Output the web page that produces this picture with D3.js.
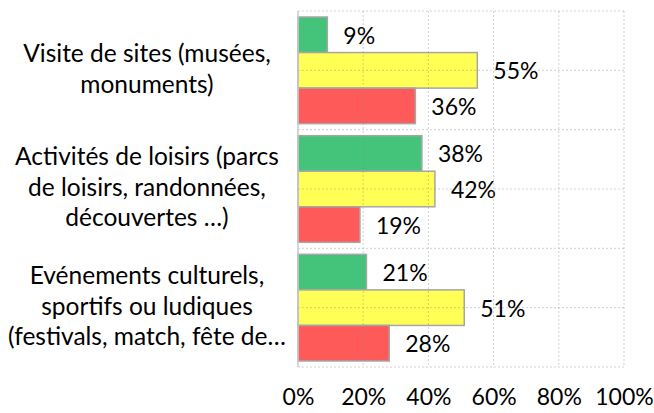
<!DOCTYPE html>
<html>
<head>
<meta charset="utf-8">
<script src="https://cdn.jsdelivr.net/npm/d3@7"></script>
<style>
  body { margin: 0; background: #fff; }
  svg text { font-family: Lato, "Open Sans", sans-serif; fill: #000; }
</style>
</head>
<body>
<div id="chart"></div>
<script>
// data
var categories = [
  ["Visite de sites (musées,", "monuments)"],
  ["Activités de loisirs (parcs", "de loisirs, randonnées,", "découvertes …)"],
  ["Evénements culturels,", "sportifs ou ludiques", "(festivals, match, fête de…"]
];
var seriesNames = ["vert", "jaune", "rouge"];
var greenValues = [9, 38, 21];
var yellowValues = [55, 42, 51];
var redValues = [36, 19, 28];
var xTicks = [0, 20, 40, 60, 80, 100];
var colors = ["#43c47a", "#ffff55", "#ff5a5a"];

var svgWidth = 654, svgHeight = 413;
var margin = {top: 11, left: 298, right: 30, bottom: 46};
var catFont = 24.5, valFont = 23;

var svg = d3.select("#chart").append("svg")
  .attr("width", svgWidth)
  .attr("height", svgHeight);

var values = [greenValues, yellowValues, redValues];
var rows = categories.map(function(c, i) {
  return {label: c, vals: values.map(function(s) { return s[i]; })};
});

var x = d3.scaleLinear().domain([0, 100]).range([margin.left, margin.left + 326]);
var y0 = d3.scaleBand().domain(d3.range(categories.length))
  .range([margin.top, svgHeight - margin.bottom]);
var y1 = d3.scaleBand().domain(d3.range(seriesNames.length))
  .range([6, y0.bandwidth() - 6]);

// bars
var groups = svg.selectAll("g.cat")
  .data(rows)
  .enter().append("g")
  .attr("class", "cat")
  .attr("transform", function(d, i) { return "translate(0," + y0(i) + ")"; });

groups.selectAll("rect")
  .data(function(d) { return d.vals; })
  .enter().append("rect")
  .attr("x", x(0))
  .attr("y", function(d, j) { return y1(j); })
  .attr("width", function(d) { return x(d) - x(0); })
  .attr("height", y1.bandwidth())
  .attr("fill", function(d, j) { return colors[j]; })
  .attr("stroke", "#a6a6a6")
  .attr("stroke-width", 1.5);

// grid (drawn over, semi transparent like the original)
var grid = svg.append("g").attr("class", "grid")
  .attr("stroke", "#8c8c8c")
  .attr("stroke-opacity", 0.4)
  .attr("stroke-dasharray", "2,2");

grid.selectAll("line.v")
  .data(xTicks.slice(1))
  .enter().append("line")
  .attr("x1", function(d) { return x(d); })
  .attr("x2", function(d) { return x(d); })
  .attr("y1", y0.range()[0])
  .attr("y2", y0.range()[1]);

var hLines = d3.range(categories.length + 1).map(function(i) { return y0.range()[0] + i * y0.bandwidth(); })
  .concat(d3.range(categories.length).map(function(i) { return y0(i) + y0.bandwidth() / 2; }));

grid.selectAll("line.h")
  .data(hLines)
  .enter().append("line")
  .attr("x1", x(0))
  .attr("x2", x(100))
  .attr("y1", function(d) { return d; })
  .attr("y2", function(d) { return d; });

// left axis line
svg.append("line")
  .attr("x1", x(0)).attr("x2", x(0))
  .attr("y1", y0.range()[0]).attr("y2", y0.range()[1])
  .attr("stroke", "#c8c8c8")
  .attr("stroke-width", 1.5);

// value labels
groups.selectAll("text.val")
  .data(function(d) { return d.vals; })
  .enter().append("text")
  .attr("class", "val")
  .attr("x", function(d) { return x(d) + 16; })
  .attr("y", function(d, j) { return y1(j) + y1.bandwidth() / 2 + 9; })
  .attr("font-size", valFont)
  .text(function(d) { return d + "%"; });

// category labels
groups.append("text")
  .attr("class", "cat-label")
  .attr("text-anchor", "middle")
  .attr("font-size", catFont)
  .each(function(d) {
    var t = d3.select(this);
    var n = d.label.length;
    d.label.forEach(function(line, k) {
      t.append("tspan")
        .attr("x", 147)
        .attr("y", y0.bandwidth() / 2 + 7 + (k - (n - 1) / 2) * 30.5)
        .text(line);
    });
  });

// x axis
var xAxis = svg.append("g")
  .attr("transform", "translate(0," + (svgHeight - margin.bottom) + ")")
  .call(d3.axisBottom(x).tickValues(xTicks).tickSize(0).tickPadding(22)
    .tickFormat(function(d) { return d + "%"; }));
xAxis.select(".domain").remove();
xAxis.selectAll("text")
  .attr("font-size", valFont)
  .attr("font-family", "Lato, sans-serif")
  .attr("fill", "#000");
</script>
</body>
</html>
